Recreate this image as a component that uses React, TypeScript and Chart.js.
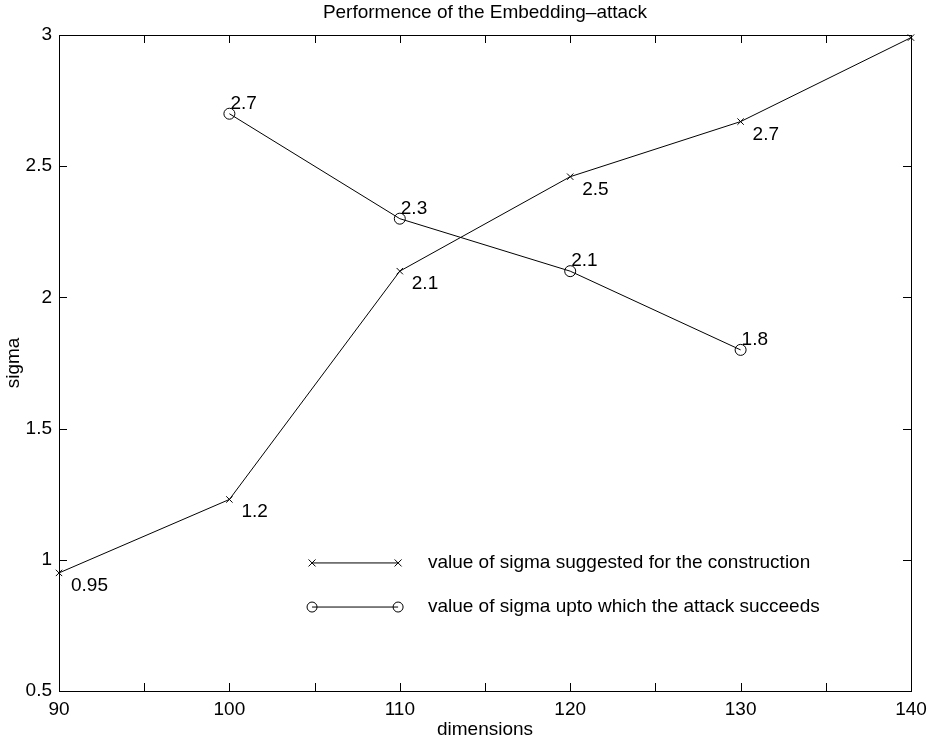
import React, { useEffect, useRef } from "react";
import { Chart, registerables } from "chart.js";

Chart.register(...registerables);

// ---- data ----
const dims = [90, 100, 110, 120, 130, 140];
const suggestedSigma = [0.95, 1.23, 2.1, 2.46, 2.67, 2.99];
const suggestedLabels = ["0.95", "1.2", "2.1", "2.5", "2.7", ""];

const succeedDims = [100, 110, 120, 130];
const succeedSigma = [2.7, 2.3, 2.1, 1.8];
const succeedLabels = ["2.7", "2.3", "2.1", "1.8"];

const legendLabels = [
  "value of sigma suggested for the construction",
  "value of sigma upto which the attack succeeds",
];

const titleText = "Performence of the Embedding\u2013attack";
const xTitle = "dimensions";
const yTitle = "sigma";

const FONT = "'Liberation Sans', Arial, Helvetica, sans-serif";
const FS = 19;

function drawCross(ctx: CanvasRenderingContext2D, x: number, y: number, r: number) {
  ctx.beginPath();
  ctx.moveTo(x - r, y - r);
  ctx.lineTo(x + r, y + r);
  ctx.moveTo(x - r, y + r);
  ctx.lineTo(x + r, y - r);
  ctx.stroke();
}
function drawCircle(ctx: CanvasRenderingContext2D, x: number, y: number, r: number) {
  ctx.beginPath();
  ctx.arc(x, y, r, 0, Math.PI * 2);
  ctx.stroke();
}

const decorPlugin = {
  id: "decor",
  afterDatasetsDraw(chart: any) {
    const ctx: CanvasRenderingContext2D = chart.ctx;
    const { left, right, top, bottom } = chart.chartArea;
    const xs = chart.scales.x;
    const ys = chart.scales.y;
    ctx.save();
    ctx.strokeStyle = "#000";
    ctx.lineWidth = 1;
    // frame
    ctx.strokeRect(Math.round(left) + 0.5, Math.round(top) + 0.5, Math.round(right - left), Math.round(bottom - top));
    const TL = 8;
    // x ticks (inside, top and bottom)
    xs.ticks.forEach((t: any) => {
      const px = Math.round(xs.getPixelForValue(t.value)) + 0.5;
      ctx.beginPath();
      ctx.moveTo(px, bottom);
      ctx.lineTo(px, bottom - TL);
      ctx.moveTo(px, top);
      ctx.lineTo(px, top + TL);
      ctx.stroke();
    });
    ys.ticks.forEach((t: any) => {
      const py = Math.round(ys.getPixelForValue(t.value)) + 0.5;
      ctx.beginPath();
      ctx.moveTo(left, py);
      ctx.lineTo(left + TL, py);
      ctx.moveTo(right, py);
      ctx.lineTo(right - TL, py);
      ctx.stroke();
    });

    // data labels
    ctx.fillStyle = "#000";
    ctx.font = `${FS}px ${FONT}`;
    ctx.textAlign = "left";
    ctx.textBaseline = "alphabetic";
    const m0 = chart.getDatasetMeta(0);
    m0.data.forEach((pt: any, i: number) => {
      const txt = suggestedLabels[i];
      if (txt) ctx.fillText(txt, pt.x + 12, pt.y + 18);
    });
    const m1 = chart.getDatasetMeta(1);
    m1.data.forEach((pt: any, i: number) => {
      const txt = succeedLabels[i];
      if (txt) ctx.fillText(txt, pt.x + 1, pt.y - 5);
    });

    // legend (inside axes)
    const lx1 = xs.getPixelForValue(104.85);
    const lx2 = xs.getPixelForValue(109.9);
    const ly1 = ys.getPixelForValue(0.988);
    const ly2 = ys.getPixelForValue(0.82);
    const tx = xs.getPixelForValue(111.65);
    ctx.beginPath();
    ctx.moveTo(lx1, ly1);
    ctx.lineTo(lx2, ly1);
    ctx.stroke();
    drawCross(ctx, lx1, ly1, 3.5);
    drawCross(ctx, lx2, ly1, 3.5);
    ctx.beginPath();
    ctx.moveTo(lx1, ly2);
    ctx.lineTo(lx2, ly2);
    ctx.stroke();
    drawCircle(ctx, lx1, ly2, 5);
    drawCircle(ctx, lx2, ly2, 5);
    ctx.textBaseline = "middle";
    ctx.fillText(legendLabels[0], tx, ly1);
    ctx.fillText(legendLabels[1], tx, ly2);
    ctx.restore();
  },
};

export default function App() {
  const ref = useRef<HTMLCanvasElement | null>(null);
  useEffect(() => {
    document.body.style.margin = "0";
    const canvas = ref.current!;
    const chart = new Chart(canvas, {
      type: "line",
      data: {
        datasets: [
          {
            label: legendLabels[0],
            data: dims.map((d, i) => ({ x: d, y: suggestedSigma[i] })),
            borderColor: "#000",
            borderWidth: 1,
            pointStyle: "crossRot",
            pointRadius: 4.5,
            pointBorderColor: "#000",
            pointBorderWidth: 1,
            pointBackgroundColor: "transparent",
            tension: 0,
            fill: false,
            clip: false as any,
          },
          {
            label: legendLabels[1],
            data: succeedDims.map((d, i) => ({ x: d, y: succeedSigma[i] })),
            borderColor: "#000",
            borderWidth: 1,
            pointStyle: "circle",
            pointRadius: 5.5,
            pointBorderColor: "#000",
            pointBorderWidth: 1,
            pointBackgroundColor: "transparent",
            tension: 0,
            fill: false,
            clip: false as any,
          },
        ],
      },
      options: {
        animation: false,
        responsive: false,
        events: [],
        layout: { padding: { left: 0, right: 24, top: 0, bottom: 0 } },
        plugins: {
          legend: { display: false },
          tooltip: { enabled: false },
          title: {
            display: true,
            text: titleText,
            fullSize: false,
            color: "#000",
            font: { family: FONT, size: FS, weight: "normal" },
            padding: { top: 1, bottom: 11.2 },
          },
        },
        scales: {
          x: {
            type: "linear",
            min: 90,
            max: 140,
            grid: { display: false, drawTicks: false },
            border: { display: false },
            afterFit: (s: any) => {
              s.height = 51;
            },
            ticks: {
              stepSize: 5,
              autoSkip: false,
              maxRotation: 0,
              padding: 7,
              color: "#000",
              font: { family: FONT, size: FS },
              callback: (v: any) => (Number(v) % 10 === 0 ? String(v) : ""),
            },
            title: {
              display: true,
              text: xTitle,
              color: "#000",
              font: { family: FONT, size: FS },
              padding: { top: 0, bottom: 1 },
            },
          },
          y: {
            type: "linear",
            min: 0.5,
            max: 3,
            grid: { display: false, drawTicks: false },
            border: { display: false },
            afterFit: (s: any) => {
              s.width = 59;
            },
            ticks: {
              stepSize: 0.5,
              padding: 7,
              color: "#000",
              font: { family: FONT, size: FS },
              callback: (v: any) => String(v),
            },
            title: {
              display: true,
              text: yTitle,
              color: "#000",
              font: { family: FONT, size: FS },
              padding: { top: 2, bottom: 0 },
            },
          },
        },
      },
      plugins: [decorPlugin],
    });
    return () => chart.destroy();
  }, []);
  return (
    <div style={{ width: 935, height: 742, background: "#fff" }}>
      <canvas ref={ref} width={935} height={742} style={{ display: "block" }} />
    </div>
  );
}
